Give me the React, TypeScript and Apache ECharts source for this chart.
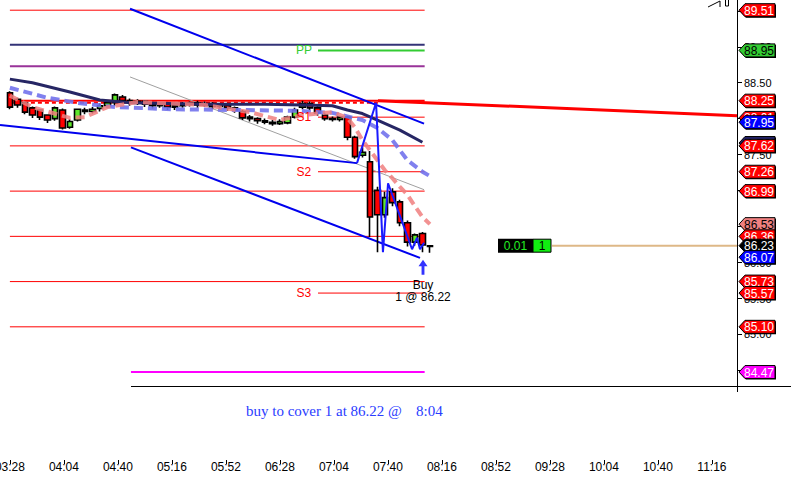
import React, { useEffect, useRef } from "react";
import * as echarts from "echarts";

// ---------- data ----------
const barTimes = [
  "03:28","03:33","03:38","03:43","03:48","03:53","03:58","04:03","04:08","04:13",
  "04:18","04:23","04:28","04:33","04:38","04:43","04:48","04:53","04:58","05:03",
  "05:08","05:13","05:18","05:23","05:28","05:33","05:38","05:43","05:48","05:53",
  "05:58","06:03","06:08","06:13","06:18","06:23","06:28","06:33","06:38","06:43",
  "06:48","06:53","06:58","07:03","07:08","07:13","07:18","07:23","07:28","07:33",
  "07:38","07:43","07:48","07:53","07:58","08:03","08:08"
];
const opens = [88.36,88.27,88.22,88.15,88.12,88.05,88.00,88.12,87.88,87.98,88.12,88.10,88.14,88.18,88.22,88.30,88.25,88.22,88.24,88.20,88.18,88.20,88.16,88.18,88.20,88.22,88.19,88.21,88.17,88.18,88.15,88.10,88.02,88.00,87.97,87.95,87.93,87.94,88.02,88.16,88.21,88.15,88.05,88.00,87.99,88.02,87.74,87.49,87.40,87.00,86.66,86.98,86.84,86.55,86.28,86.40,86.23];
const closes = [88.16,88.19,88.09,88.05,88.02,87.98,88.15,87.87,87.96,88.13,88.10,88.13,88.18,88.22,88.33,88.25,88.22,88.24,88.20,88.18,88.20,88.16,88.18,88.20,88.22,88.19,88.21,88.17,88.18,88.15,88.12,88.01,88.00,87.97,87.95,87.93,87.96,88.02,88.12,88.21,88.15,88.08,88.00,87.99,88.02,87.74,87.47,87.53,86.63,86.66,86.90,86.83,86.55,86.28,86.38,86.24,86.22];
const lows = [88.13,88.15,88.06,88.01,87.98,87.94,87.97,87.85,87.86,87.96,88.06,88.07,88.10,88.15,88.18,88.21,88.18,88.19,88.16,88.14,88.15,88.12,88.12,88.15,88.17,88.15,88.16,88.13,88.13,88.11,88.08,87.98,87.96,87.93,87.92,87.90,87.91,87.92,88.00,88.13,88.12,88.04,87.97,87.96,87.96,87.70,87.44,87.46,86.35,86.14,86.62,86.78,86.50,86.22,86.23,86.14,86.13];
const highs = [88.38,88.29,88.24,88.17,88.13,88.06,88.17,88.14,87.99,88.14,88.15,88.16,88.21,88.25,88.35,88.33,88.28,88.27,88.26,88.23,88.23,88.22,88.20,88.23,88.24,88.25,88.24,88.23,88.21,88.20,88.17,88.12,88.05,88.02,88.00,87.98,87.99,88.04,88.15,88.25,88.24,88.18,88.08,88.03,88.04,88.04,87.76,87.60,87.55,87.05,86.98,87.03,86.87,86.58,86.40,86.42,86.24];

// moving averages (bar index -> value)
const navyIdx = [0,3,8,12,16,26,34,39,43,45,47,49,52,55];
const navyMA = [88.55,88.50,88.37,88.26,88.22,88.20,88.20,88.19,88.18,88.12,88.07,87.98,87.84,87.67];
const blueIdx = [0,5,9,14,22,30,38,43,47,49,51,53,55,56];
const blueMA = [88.43,88.29,88.22,88.16,88.13,88.12,88.11,88.08,87.98,87.87,87.70,87.42,87.26,87.20];
const salmonIdx = [0,3,8,10,13,17,26,32,36,39,43,45,46,47,48,49,50,51,52,53,54,55,56];
const salmonMA = [88.32,88.16,88.01,88.02,88.16,88.23,88.19,88.09,87.98,88.05,88.09,88.01,87.88,87.70,87.56,87.42,87.28,87.17,87.05,86.94,86.78,86.63,86.53];

// horizontal levels
const redLevels = [89.51, 87.62, 86.99, 86.36, 85.73, 85.10];
const navyLevel = 89.03;
const purpleLevel = 88.73;
const resistLevel = 88.25;
const dashedLevel = 88.22;
const magentaLevel = 84.47;
const pivotNames = ["PP", "S1", "S2", "S3"];
const pivotLevels = [88.95, 88.02, 87.26, 85.57];
const positionLevel = 86.23;

// time span of the level lines (minutes)
const levelStart = 208;
const levelEnd = 484.5;
const pivotStart = 413.4;
const magentaStart = 288.7;
const pivotLabelTime = 404;

// trend / channel lines
const trendTimes = [453.4, 692.73];
const trendPrices = [88.25, 88.04];
const upperTimes = [288.1, 484.1];
const upperPrices = [89.53, 87.93];
const lowerShortTimes = [201.4, 439.4];
const lowerShortPrices = [87.91, 87.38];
const lowerTimes = [288.7, 481.4];
const lowerPrices = [87.60, 86.06];
const grayTimes = [288.1, 484.1];
const grayPrices = [88.58, 87.01];
const zigTimes = [439.4, 452.1, 456.7, 460.1, 476.1, 479.4, 481.4, 484.1];
const zigPrices = [87.38, 88.22, 86.14, 87.10, 86.18, 86.34, 86.18, 86.27];

// order / signal
const buyTime = 483.4;
const buyArrowPrice = 85.93;
const buyTexts = ["Buy", "1 @ 86.22"];
const buyTextPrices = [85.68, 85.515];
const orderTime = 533.4;
const orderTexts = ["0.01", "1"];
const orderLineStart = 569.4;

// price tags on the right axis
const tagPrices = [89.51, 88.95, 88.25, 88.01, 87.95, 87.66, 87.62, 87.26, 86.99, 86.53, 86.36, 86.23, 86.07, 85.73, 85.57, 85.10, 84.47];
const tagKinds = ["r","g","r","r","b","n","r","r","r","s","r","k","b","r","r","r","m"];

const xTickLabels = ["03:28","04:04","04:40","05:16","05:52","06:28","07:04","07:40","08:16","08:52","09:28","10:04","10:40","11:16"];
const yTickValues = [84.5, 85, 85.5, 86, 86.5, 87, 87.5, 88, 88.5, 89, 89.5];

const X_MIN = 201.4;
const X_MAX = 692.73;
const Y_MIN = 83.245;
const Y_MAX = 89.652;

// ---------- helpers ----------
const toMin = (s: string) => {
  const [h, m] = s.split(":").map(Number);
  return h * 60 + m;
};
const pad = (n: number) => (n < 10 ? "0" : "") + n;
const fmtMin = (v: number) => pad(Math.floor(Math.round(v) / 60)) + ":" + pad(Math.round(v) % 60);

const FONT = '"Liberation Sans", Arial, sans-serif';

const tagStyle: Record<string, { fill: string; text: string }> = {
  r: { fill: "#ff0000", text: "#ffffff" },
  g: { fill: "#33cc33", text: "#000000" },
  b: { fill: "#0000ff", text: "#ffffff" },
  n: { fill: "#222266", text: "#ffffff" },
  s: { fill: "#f08080", text: "#000000" },
  k: { fill: "#000000", text: "#ffffff" },
  m: { fill: "#ff00ff", text: "#ffffff" },
};

function line(data: number[][], color: string, width: number, z = 1, type: any = "solid", opacity = 1) {
  return {
    type: "line",
    data,
    symbol: "none",
    silent: true,
    z,
    lineStyle: { color, width, type, opacity },
  };
}
const pair = (times: number[], prices: number[]) => times.map((t, i) => [t, prices[i]]);
const level = (p: number, start = levelStart, end = levelEnd) => [[start, p], [end, p]];
const fromIdx = (idx: number[], vals: number[]) => idx.map((k, i) => [toMin(barTimes[k]), vals[i]]);

export default function App() {
  const ref = useRef<HTMLDivElement>(null);

  useEffect(() => {
    if (!ref.current) return;
    const chart = echarts.init(ref.current, undefined, { renderer: "svg" });

    const candleData = barTimes.map((t, i) => [toMin(t), opens[i], closes[i], lows[i], highs[i]]);
    const pivotColors = ["#33cc33", "#ff0000", "#ff0000", "#ff0000"];

    const series: any[] = [];
    // level lines
    redLevels.forEach((p) => series.push(line(level(p), "#ff0000", 1)));
    series.push(line(level(navyLevel), "#333377", 2));
    series.push(line(level(purpleLevel), "#993399", 2));
    series.push(line(level(resistLevel), "#ff0000", 2));
    series.push(line(level(dashedLevel, levelStart, trendTimes[0]), "#ff0000", 2, 1, [4, 3]));
    series.push(line(level(magentaLevel, magentaStart), "#ff00ff", 2));
    pivotLevels.forEach((p, i) =>
      series.push(line(level(p, pivotStart), pivotColors[i], i === 0 ? 2 : 1))
    );
    series.push(line(level(positionLevel, orderLineStart, X_MAX), "#deb887", 2));
    // channel & trend lines
    series.push(line(pair(grayTimes, grayPrices), "#a0a0a0", 1, 1));
    series.push(line(pair(upperTimes, upperPrices), "#0000ee", 2, 1));
    series.push(line(pair(lowerShortTimes, lowerShortPrices), "#0000ee", 2, 1));
    series.push(line(pair(lowerTimes, lowerPrices), "#0000ee", 2, 1));
    series.push(line(pair(trendTimes, trendPrices), "#ff0000", 3, 1));

    series.push({
      type: "candlestick",
      data: candleData,
      barWidth: 6,
      z: 2,
      silent: true,
      itemStyle: {
        color: "#5ee82a",
        color0: "#ff0000",
        borderColor: "#000000",
        borderColor0: "#000000",
        borderWidth: 1.6,
      },
    });

    series.push(line(fromIdx(navyIdx, navyMA), "#262664", 3, 3));
    series.push(line(fromIdx(blueIdx, blueMA), "#7272ec", 4, 3, [9, 5], 0.9));
    series.push(line(fromIdx(salmonIdx, salmonMA), "#f07f7f", 4, 3, [9, 5], 0.85));
    series.push(line(pair(zigTimes, zigPrices), "#1a1aff", 2, 4));

    // buy arrow
    series.push({
      type: "scatter",
      data: [[buyTime, buyArrowPrice]],
      symbol: "path://M5,0 L10,7 L6.6,7 L6.6,16 L3.4,16 L3.4,7 L0,7 Z",
      symbolSize: [9, 15],
      itemStyle: { color: "#0000ff" },
      silent: true,
      z: 5,
    });

    // text annotations
    const annTexts = [...pivotNames, ...buyTexts];
    const annData = [
      ...pivotLevels.map((p) => [pivotLabelTime, p]),
      ...buyTextPrices.map((p) => [buyTime, p]),
    ];
    const annColors = [...pivotColors, "#000000", "#000000"];
    series.push({
      type: "custom",
      coordinateSystem: "cartesian2d",
      data: annData,
      silent: true,
      z: 6,
      renderItem: (params: any, api: any) => {
        const i = params.dataIndex;
        const pt = api.coord([api.value(0), api.value(1)]);
        return {
          type: "text",
          x: pt[0],
          y: pt[1],
          style: {
            text: annTexts[i],
            fill: annColors[i],
            font: "12px " + FONT,
            align: "center",
            verticalAlign: "middle",
          },
        };
      },
    });

    // order box
    series.push({
      type: "custom",
      coordinateSystem: "cartesian2d",
      data: [[orderTime, positionLevel]],
      silent: true,
      z: 6,
      renderItem: (params: any, api: any) => {
        const pt = api.coord([api.value(0), api.value(1)]);
        const x = pt[0];
        const y = pt[1];
        return {
          type: "group",
          children: [
            { type: "rect", shape: { x, y: y - 7, width: 35, height: 14 }, style: { fill: "#000000" } },
            {
              type: "text", x: x + 17.5, y,
              style: { text: orderTexts[0], fill: "#22ee22", font: "12px " + FONT, align: "center", verticalAlign: "middle" },
            },
            { type: "rect", shape: { x: x + 35, y: y - 6.5, width: 18, height: 13 }, style: { fill: "#11ee11", stroke: "#000000", lineWidth: 1 } },
            {
              type: "text", x: x + 44, y,
              style: { text: orderTexts[1], fill: "#000000", font: "12px " + FONT, align: "center", verticalAlign: "middle" },
            },
          ],
        };
      },
    });

    // y-axis labels (drawn under the tags)
    series.push({
      type: "custom",
      coordinateSystem: "cartesian2d",
      data: yTickValues.map((v) => [X_MAX, v]),
      silent: true,
      clip: false,
      z: 19,
      renderItem: (params: any, api: any) => {
        const pt = api.coord([api.value(0), api.value(1)]);
        return {
          type: "text",
          x: pt[0] + 7,
          y: pt[1] + 0.5,
          style: {
            text: yTickValues[params.dataIndex].toFixed(2),
            fill: "#000000",
            font: "11px " + FONT,
            align: "left",
            verticalAlign: "middle",
          },
        };
      },
    });

    // price tags
    series.push({
      type: "custom",
      coordinateSystem: "cartesian2d",
      data: tagPrices.map((p) => [X_MAX, p]),
      silent: true,
      clip: false,
      z: 20,
      renderItem: (params: any, api: any) => {
        const i = params.dataIndex;
        const pt = api.coord([api.value(0), api.value(1)]);
        const x = pt[0];
        const y = pt[1];
        const st = tagStyle[tagKinds[i]];
        return {
          type: "group",
          children: [
            {
              type: "polygon",
              shape: { points: [[x + 3, y + 1], [x + 9, y - 5.5], [x + 39, y - 5.5], [x + 39, y + 7.5], [x + 9, y + 7.5]] },
              style: { fill: "#000000" },
            },
            {
              type: "polygon",
              shape: { points: [[x + 2, y], [x + 8, y - 6.5], [x + 38, y - 6.5], [x + 38, y + 6.5], [x + 8, y + 6.5]] },
              style: { fill: st.fill, stroke: "#000000", lineWidth: 1 },
            },
            {
              type: "text",
              x: x + 22,
              y: y + 0.5,
              style: { text: tagPrices[i].toFixed(2), fill: st.text, font: "12px " + FONT, align: "center", verticalAlign: "middle" },
            },
          ],
        };
      },
    });

    const xTicks = xTickLabels.map(toMin);

    chart.setOption({
      animation: false,
      backgroundColor: "#ffffff",
      textStyle: { fontFamily: FONT },
      grid: { left: 0, right: 54, top: 0, bottom: 21, containLabel: false, outerBoundsMode: "none" },
      xAxis: {
        type: "value",
        min: X_MIN,
        max: X_MAX,
        axisLine: { show: false },
        splitLine: { show: false },
        axisTick: { show: true, customValues: xTicks, length: 4, lineStyle: { color: "#000000", width: 1 } },
        axisLabel: {
          show: true,
          customValues: xTicks,
          margin: 1,
          color: "#000000",
          fontSize: 12,
          fontFamily: FONT,
          formatter: (v: number) => fmtMin(v),
        },
      },
      yAxis: {
        type: "value",
        position: "right",
        min: Y_MIN,
        max: Y_MAX,
        axisLine: { show: false },
        splitLine: { show: false },
        axisTick: { show: true, customValues: yTickValues, length: 5, lineStyle: { color: "#000000", width: 1 } },
        axisLabel: { show: false },
      },
      graphic: [
        { type: "line", shape: { x1: 737.5, y1: 0, x2: 737.5, y2: 392 }, style: { stroke: "#000000", lineWidth: 1 }, z: 10 },
        { type: "line", shape: { x1: 131, y1: 386.5, x2: 791, y2: 386.5 }, style: { stroke: "#000000", lineWidth: 1 }, z: 10 },
        { type: "polyline", shape: { points: [[708, 7], [720, 1], [720, 7]] }, style: { stroke: "#000000", fill: "none", lineWidth: 1 } },
        { type: "rect", shape: { x: 725.5, y: -1, width: 3, height: 7 }, style: { stroke: "#000000", fill: "none", lineWidth: 1 } },
        {
          type: "text",
          x: 246,
          y: 411,
          style: { text: "buy to cover 1 at 86.22 @", fill: "#2a3cff", font: '15px "Liberation Serif", serif', verticalAlign: "middle" },
        },
        {
          type: "text",
          x: 416,
          y: 411,
          style: { text: "8:04", fill: "#2a3cff", font: '15px "Liberation Serif", serif', verticalAlign: "middle" },
        },
      ],
      series,
    });

    return () => chart.dispose();
  }, []);

  return (
    <div
      ref={ref}
      style={{ position: "absolute", left: 0, top: 0, width: 791, height: 481, background: "#ffffff" }}
    />
  );
}
